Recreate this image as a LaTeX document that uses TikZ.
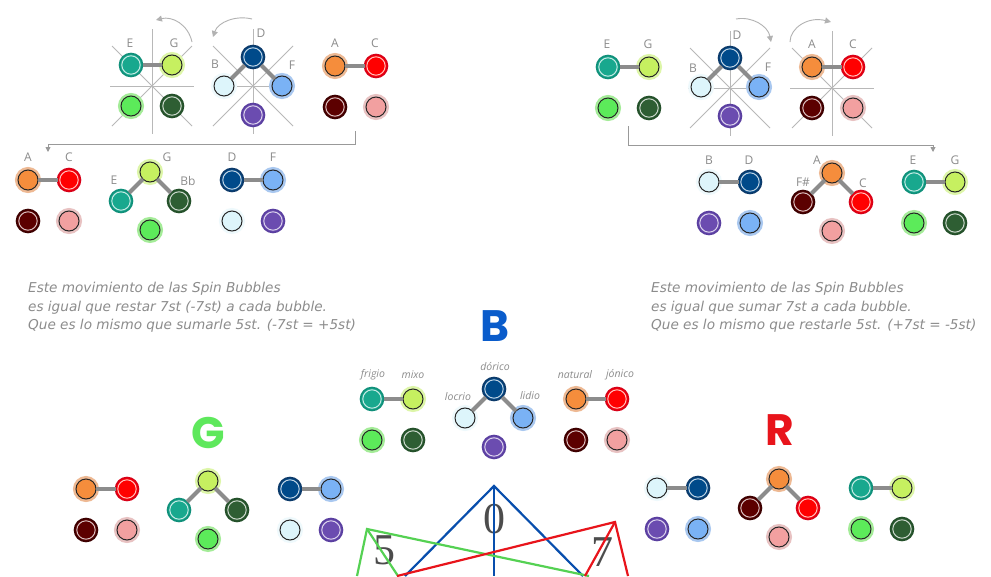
\documentclass[tikz,border=0pt]{standalone}
\usepackage{fontspec}
\setmainfont{Open Sans}
\newfontfamily\capsfont{Poppins}
\newfontfamily\numfont{Liberation Serif}
\newfontfamily\notefont{DejaVu Sans}
\usetikzlibrary{arrows.meta}

\definecolor{cTeal}{HTML}{18A88E}   \definecolor{cTealD}{HTML}{10907A}
\definecolor{cLime}{HTML}{C6F060}   \definecolor{cLimeG}{HTML}{DDF6A8}
\definecolor{cGrn}{HTML}{5CEB5A}    \definecolor{cGrnG}{HTML}{A4EC98}
\definecolor{cDgrn}{HTML}{2E5E33}   \definecolor{cDgrnD}{HTML}{24502A}
\definecolor{cDblue}{HTML}{004A8A}  \definecolor{cDblueD}{HTML}{0C3A6A}
\definecolor{cCyan}{HTML}{DDF5FB}   \definecolor{cCyanG}{HTML}{EEF9FC}
\definecolor{cLblue}{HTML}{7AB2F5}  \definecolor{cLblueG}{HTML}{A9C8F0}
\definecolor{cPurp}{HTML}{6B4CB0}   \definecolor{cPurpD}{HTML}{5A3FA0}
\definecolor{cOrng}{HTML}{F58D3C}   \definecolor{cOrngG}{HTML}{EEB993}
\definecolor{cRed}{HTML}{FF0000}    \definecolor{cRedD}{HTML}{D80018}
\definecolor{cMaroon}{HTML}{5C0000} \definecolor{cMaroonD}{HTML}{3C0000}
\definecolor{cPink}{HTML}{F2A0A0}   \definecolor{cPinkG}{HTML}{E8C2C2}
\definecolor{cNote}{HTML}{8C8C8C}
\definecolor{cBlueL}{HTML}{0A5CCB}  \definecolor{cGreenL}{HTML}{5EE85C}
\definecolor{cRedL}{HTML}{E8141B}

\tikzset{
  bubble/.style={circle, inner sep=0pt, outer sep=0pt},
  dk/.style 2 args={bubble, minimum size=23pt, fill=#1, draw=#2, line width=1.6pt,
    path picture={\draw[white!75!#1, line width=1pt] (path picture bounding box.center) circle (9.2pt);}},
  lt/.style 2 args={bubble, minimum size=20pt, fill=#1, draw=black!85, line width=1pt,
    preaction={draw=#2, line width=6pt}},
  bTeal/.style={dk={cTeal}{cTealD}},
  bLime/.style={lt={cLime}{cLimeG}},
  bGrn/.style={lt={cGrn}{cGrnG}},
  bDgrn/.style={dk={cDgrn}{cDgrnD}},
  bDblue/.style={dk={cDblue}{cDblueD}},
  bCyan/.style={lt={cCyan}{cCyanG}},
  bLblue/.style={lt={cLblue}{cLblueG}},
  bPurp/.style={dk={cPurp}{cPurpD}},
  bOrng/.style={lt={cOrng}{cOrngG}},
  bRed/.style={dk={cRed}{cRedD}},
  bMaroon/.style={dk={cMaroon}{cMaroonD}},
  bPink/.style={lt={cPink}{cPinkG}},
  bar/.style={draw=black!45, line width=4pt},
  axis/.style={draw=black!28, line width=0.9pt},
  turn/.style={draw=black!30, line width=0.9pt, -{Triangle[length=6pt,width=6pt]}},
  flow/.style={draw=black!40, line width=0.9pt, -{Triangle[length=5pt,width=5pt]}},
  tag/.style={text=cNote, font=\fontsize{12}{12}\selectfont, inner sep=0pt},
  mode/.style={text=cNote, font=\itshape\fontsize{10.5}{10.5}\selectfont, inner sep=0pt},
  story/.style={text=cNote, align=left, inner sep=0pt, anchor=north west,
    font=\notefont\itshape\fontsize{13.6}{18.5}\selectfont},
  bigletter/.style={font=\capsfont\bfseries\fontsize{44}{44}\selectfont, inner sep=0pt},
  digit/.style={text=black!70, font=\numfont\fontsize{44}{44}\selectfont, inner sep=0pt},
  starB/.style={draw=cBlueL!85!black, line width=2.2pt},
  starG/.style={draw=cGreenL!90!black, line width=2.2pt},
  starR/.style={draw=cRedL, line width=2.2pt}
}

\newcommand\sqgrp[6]{%
  \node[#3] (#1a) at (#2) {};
  \node[#4, right of=#1a] (#1b) {};
  \node[#5, below of=#1a] (#1c) {};
  \node[#6, right of=#1c] (#1d) {};
  \draw[bar] (#1a) to (#1b);
}
\newcommand\trigrp[6]{%
  \node[#3] (#1a) at (#2) {};
  \node[#4, below left of=#1a] (#1b) {};
  \node[#5, below right of=#1a] (#1c) {};
  \node[#6, below right of=#1b] (#1d) {};
  \draw[bar] (#1a) to (#1b);
  \draw[bar] (#1a) to (#1c);
}
\newcommand\crosshair[1]{%
  \draw[axis] (#1) ++(-42,0) -- ++(84,0);
  \draw[axis] (#1) ++(0,-57) -- ++(0,105);
  \draw[axis] (#1) ++(-40,-40) -- ++(80,80);
  \draw[axis] (#1) ++(40,-40) -- ++(-80,80);
}

\begin{document}
\begin{tikzpicture}[x=1pt, y=-1pt, node distance=41pt]
  \path[use as bounding box, fill=white] (0,0) rectangle (991,576);

  \crosshair{152,86}
  \crosshair{253,86}
  \crosshair{730,88}
  \crosshair{832,88}

  \sqgrp{tlE}{131,65}{bTeal}{bLime}{bGrn}{bDgrn}
  \trigrp{tlD}{253,57}{bDblue}{bCyan}{bLblue}{bPurp}
  \sqgrp{tlA}{335,66}{bOrng}{bRed}{bMaroon}{bPink}

  \sqgrp{blA}{28,180}{bOrng}{bRed}{bMaroon}{bPink}
  \trigrp{blG}{150,172}{bLime}{bTeal}{bDgrn}{bGrn}
  \sqgrp{blD}{232,180}{bDblue}{bLblue}{bCyan}{bPurp}

  \sqgrp{trE}{608,67}{bTeal}{bLime}{bGrn}{bDgrn}
  \trigrp{trD}{730,58}{bDblue}{bCyan}{bLblue}{bPurp}
  \sqgrp{trA}{812,67}{bOrng}{bRed}{bMaroon}{bPink}

  \sqgrp{brB}{709,182}{bCyan}{bDblue}{bPurp}{bLblue}
  \trigrp{brA}{832,173}{bOrng}{bMaroon}{bRed}{bPink}
  \sqgrp{brE}{914,182}{bTeal}{bLime}{bGrn}{bDgrn}

  \sqgrp{bFr}{372,399}{bTeal}{bLime}{bGrn}{bDgrn}
  \trigrp{bDo}{494,389}{bDblue}{bCyan}{bLblue}{bPurp}
  \sqgrp{bNa}{576,399}{bOrng}{bRed}{bMaroon}{bPink}

  \sqgrp{gA}{86,489}{bOrng}{bRed}{bMaroon}{bPink}
  \trigrp{gG}{208,481}{bLime}{bTeal}{bDgrn}{bGrn}
  \sqgrp{gD}{290,489}{bDblue}{bLblue}{bCyan}{bPurp}

  \sqgrp{rB}{657,488}{bCyan}{bDblue}{bPurp}{bLblue}
  \trigrp{rA}{779,479}{bOrng}{bMaroon}{bRed}{bPink}
  \sqgrp{rE}{861,488}{bTeal}{bLime}{bGrn}{bDgrn}

  \node[tag] (tlEl) at (130,43) {E};
  \node[tag] (tlGl) at (174,43) {G};
  \node[tag] (tlDl) at (261,33) {D};
  \node[tag] (tlBl) at (215,64) {B};
  \node[tag] (tlFl) at (292,65) {F};
  \node[tag] (tlAl) at (335,43) {A};
  \node[tag] (tlCl) at (375,43) {C};

  \node[tag] (blAl) at (28,157) {A};
  \node[tag] (blCl) at (69,157) {C};
  \node[tag] (blGl) at (167,157) {G};
  \node[tag] (blEl) at (114,180) {E};
  \node[tag] (blBl) at (188,181) {Bb};
  \node[tag] (blDl) at (232,157) {D};
  \node[tag] (blFl) at (273,157) {F};

  \node[tag] (trEl) at (607,44) {E};
  \node[tag] (trGl) at (648,44) {G};
  \node[tag] (trDl) at (737,35) {D};
  \node[tag] (trBl) at (693,68) {B};
  \node[tag] (trFl) at (768,67) {F};
  \node[tag] (trAl) at (812,44) {A};
  \node[tag] (trCl) at (853,44) {C};

  \node[tag] (brBl) at (709,160) {B};
  \node[tag] (brDl) at (749,160) {D};
  \node[tag] (brAl) at (817,160) {A};
  \node[tag] (brFl) at (803,182) {F\#};
  \node[tag] (brCl) at (863,183) {C};
  \node[tag] (brEl) at (913,160) {E};
  \node[tag] (brGl) at (955,160) {G};

  \node[mode] (frigio)  at (373,375) {frigio};
  \node[mode] (mixo)    at (413,375) {mixo};
  \node[mode] (dorico)  at (495,367) {dórico};
  \node[mode] (locrio)  at (458,397) {locrio};
  \node[mode] (lidio)   at (530,396) {lidio};
  \node[mode] (natural) at (575,375) {natural};
  \node[mode] (jonico)  at (620,375) {jónico};

  \coordinate (tlTurnE) at (192,42);  \coordinate (tlTurnEe) at (156,20);
  \coordinate (tlTurnD) at (252,19);  \coordinate (tlTurnDe) at (213,37);
  \coordinate (trTurnD) at (736,19);  \coordinate (trTurnDe) at (771,42);
  \coordinate (trTurnA) at (790,42);  \coordinate (trTurnAe) at (831,22);
  \draw[turn] (tlTurnE) .. controls (188,24) and (172,16) .. (tlTurnEe);
  \draw[turn] (tlTurnD) .. controls (236,15) and (218,22) .. (tlTurnDe);
  \draw[turn] (trTurnD) .. controls (752,16) and (768,26) .. (trTurnDe);
  \draw[turn] (trTurnA) .. controls (790,28) and (808,16) .. (trTurnAe);

  \coordinate (tlOut) at (355,131);
  \coordinate (blIn)  at (48,152);
  \coordinate (trOut) at (628,126);
  \coordinate (brIn)  at (933,152);
  \draw[flow] (tlOut) -- ++(0,13) -| (blIn);
  \draw[flow] (trOut) -- ++(0,19) -| (brIn);

  \node[story] (leftNote) at (28,282) {Este movimiento de las Spin Bubbles\\es igual que restar 7st (-7st) a cada bubble.\\Que es lo mismo que sumarle 5st. (-7st = +5st)};
  \node[story] (rightNote) at (651,282) {Este movimiento de las Spin Bubbles\\es igual que sumar 7st a cada bubble.\\Que es lo mismo que restarle 5st. (+7st = -5st)};

  \node[bigletter, text=cBlueL]  (bigB) at (495,326) {B};
  \node[bigletter, text=cGreenL] (bigG) at (208,433) {G};
  \node[bigletter, text=cRedL]   (bigR) at (780,430) {R};

  \node[digit] (zero)  at (494,519) {0};
  \node[digit] (five)  at (384,550) {5};
  \node[digit] (seven) at (602,552) {7};

  \coordinate (blueTop) at (494,486);
  \coordinate (blueL) at (405,576);
  \coordinate (blueM) at (494,576);
  \coordinate (blueR) at (583,576);
  \coordinate (greenTop) at (367,529);
  \coordinate (greenL) at (357,576);
  \coordinate (greenM) at (398,576);
  \coordinate (greenR) at (589,576);
  \coordinate (redTop) at (615,522);
  \coordinate (redL) at (397,576);
  \coordinate (redM) at (585,576);
  \coordinate (redR) at (628,576);
  \draw[starB] (blueL) -- (blueTop) -- (blueR);
  \draw[starB] (blueTop) -- (blueM);
  \draw[starG] (greenL) -- (greenTop) -- (greenR);
  \draw[starG] (greenTop) -- (greenM);
  \draw[starR] (redL) -- (redTop) -- (redR);
  \draw[starR] (redTop) -- (redM);
\end{tikzpicture}
\end{document}
